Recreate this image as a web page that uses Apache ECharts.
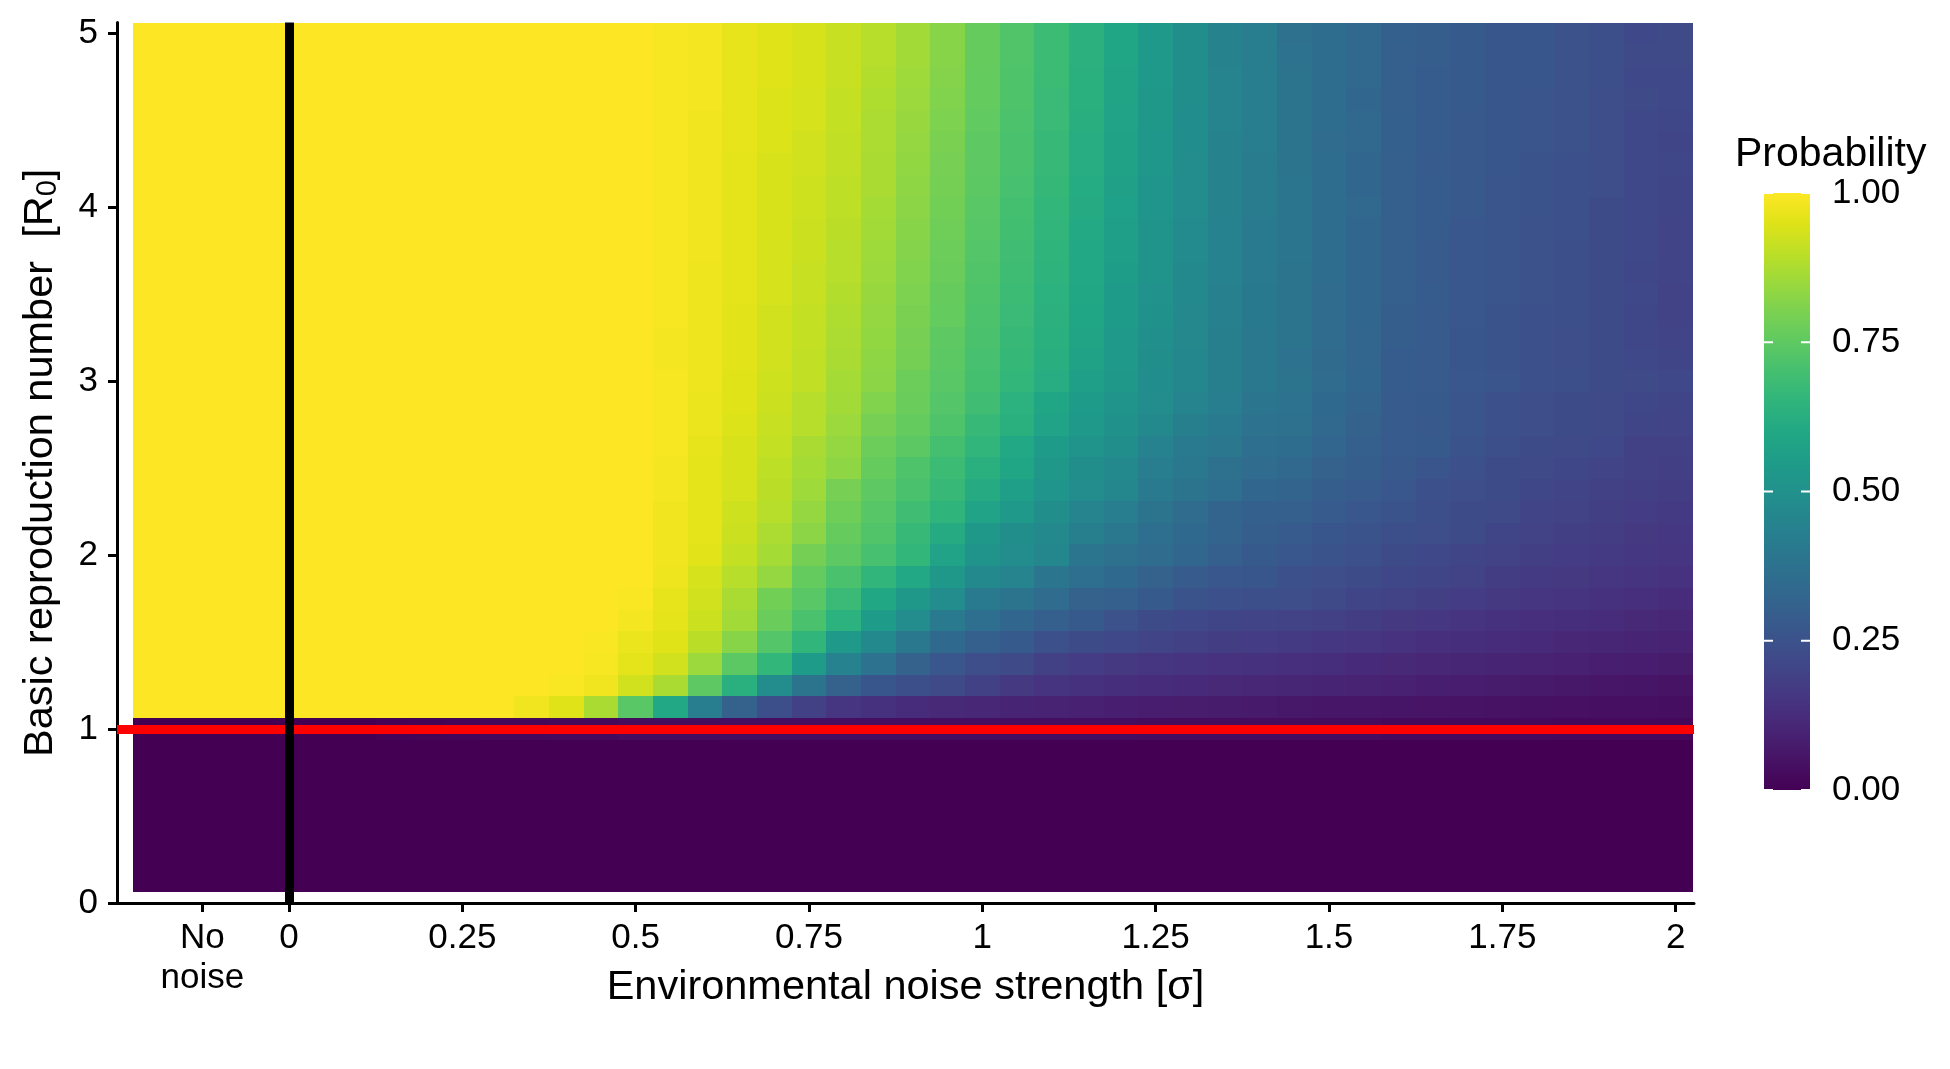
<!DOCTYPE html>
<html>
<head>
<meta charset="utf-8">
<script src="https://cdn.jsdelivr.net/npm/echarts@6/dist/echarts.min.js"></script>
<style>
  html, body { margin: 0; padding: 0; background: #ffffff; }
  #chart { width: 1950px; height: 1069px; }
</style>
</head>
<body>
<div id="chart"></div>
<script>
// ---------------- DATA ----------------
// Noise strength levels (first entry is the "No noise" reference column)
const sigmaLevels = [-0.125, 0, 0.05, 0.1, 0.15, 0.2, 0.25, 0.3, 0.35, 0.4, 0.45, 0.5,
  0.55, 0.6, 0.65, 0.7, 0.75, 0.8, 0.85, 0.9, 0.95, 1, 1.05, 1.1, 1.15, 1.2, 1.25,
  1.3, 1.35, 1.4, 1.45, 1.5, 1.55, 1.6, 1.65, 1.7, 1.75, 1.8, 1.85, 1.9, 1.95, 2];

// Basic reproduction number levels (rows)
const r0Levels = [0.125, 0.25, 0.375, 0.5, 0.625, 0.75, 0.875, 1, 1.125, 1.25, 1.375, 1.5,
  1.625, 1.75, 1.875, 2, 2.125, 2.25, 2.375, 2.5, 2.625, 2.75, 2.875, 3, 3.125, 3.25,
  3.375, 3.5, 3.625, 3.75, 3.875, 4, 4.125, 4.25, 4.375, 4.5, 4.625, 4.75, 4.875, 5];

// Probability per row (R0 ascending), columns follow sigmaLevels
const probability = [
  [0,0,0,0,0,0,0, 0,0,0,0,0, 0,0,0,0,0, 0,0,0,0,0, 0,0,0,0,0, 0,0,0,0,0, 0,0,0,0,0, 0,0,0,0,0],
  [0,0,0,0,0,0,0, 0,0,0,0,0, 0,0,0,0,0, 0,0,0,0,0, 0,0,0,0,0, 0,0,0,0,0, 0,0,0,0,0, 0,0,0,0,0],
  [0,0,0,0,0,0,0, 0,0,0,0,0, 0,0,0,0,0, 0,0,0,0,0, 0,0,0,0,0, 0,0,0,0,0, 0,0,0,0,0, 0,0,0,0,0],
  [0,0,0,0,0,0,0, 0,0,0,0,0, 0,0,0,0,0, 0,0,0,0,0, 0,0,0,0,0, 0,0,0,0,0, 0,0,0,0,0, 0,0,0,0,0],
  [0,0,0,0,0,0,0, 0,0,0,0,0, 0,0,0,0,0, 0,0,0,0,0, 0,0,0,0,0, 0,0,0,0,0, 0,0,0,0,0, 0,0,0,0,0],
  [0,0,0,0,0,0,0, 0,0,0,0,0, 0,0,0,0,0, 0,0,0,0,0, 0,0,0,0,0, 0,0,0,0,0, 0,0,0,0,0, 0,0,0,0,0],
  [0,0,0,0,0,0,0, 0,0,0,0,0, 0,0,0,0,0, 0,0,0,0,0, 0,0,0,0,0, 0,0,0,0,0, 0,0,0,0,0, 0,0,0,0,0],
  [0,0,0,0,0.005,0.01,0.015, 0.02,0.02,0.025,0.025,0.03, 0.03,0.03,0.035,0.035,0.035, 0.035,0.035,0.035,0.035,0.035, 0.035,0.035,0.035,0.035,0.03, 0.03,0.03,0.03,0.03,0.03, 0.03,0.025,0.025,0.025,0.025, 0.025,0.02,0.02,0.02,0.02],
  [1,1,1,1,1,1,1, 1,0.98,0.95,0.87,0.74, 0.60,0.42,0.31,0.24,0.19, 0.155,0.14,0.125,0.115,0.11, 0.10,0.095,0.09,0.085,0.08, 0.078,0.075,0.07,0.065,0.06, 0.058,0.055,0.052,0.05,0.047, 0.045,0.042,0.04,0.038,0.035],
  [1,1,1,1,1,1,1, 1,1,0.995,0.98,0.93, 0.87,0.75,0.63,0.48,0.38, 0.31,0.265,0.24,0.22,0.19, 0.165,0.15,0.14,0.13,0.125, 0.12,0.115,0.11,0.105,0.10, 0.095,0.09,0.085,0.08,0.075, 0.07,0.065,0.06,0.055,0.05],
  [1,1,1,1,1,1,1, 1,1,1,0.99,0.96, 0.93,0.85,0.745,0.66,0.55, 0.44,0.375,0.31,0.27,0.235, 0.22,0.19,0.175,0.165,0.155, 0.15,0.145,0.14,0.135,0.13, 0.12,0.115,0.11,0.105,0.10, 0.095,0.09,0.085,0.08,0.075],
  [1,1,1,1,1,1,1, 1,1,1,0.995,0.97, 0.95,0.895,0.82,0.73,0.655, 0.54,0.47,0.40,0.34,0.30, 0.28,0.245,0.23,0.215,0.20, 0.19,0.18,0.175,0.17,0.16, 0.155,0.145,0.135,0.13,0.125, 0.12,0.11,0.105,0.10,0.095],
  [1,1,1,1,1,1,1, 1,1,1,1,0.985, 0.96,0.92,0.86,0.77,0.71, 0.64,0.55,0.48,0.41,0.36, 0.33,0.30,0.28,0.25,0.23, 0.215,0.205,0.20,0.195,0.19, 0.18,0.165,0.16,0.15,0.14, 0.135,0.13,0.125,0.115,0.11],
  [1,1,1,1,1,1,1, 1,1,1,1,0.995, 0.965,0.93,0.87,0.785,0.74, 0.675,0.595,0.53,0.48,0.41, 0.38,0.35,0.31,0.30,0.28, 0.255,0.245,0.24,0.235,0.22, 0.205,0.195,0.185,0.175,0.165, 0.155,0.15,0.14,0.135,0.125],
  [1,1,1,1,1,1,1, 1,1,1,1,1, 0.975,0.935,0.89,0.84,0.76, 0.71,0.655,0.60,0.53,0.47, 0.45,0.39,0.36,0.34,0.31, 0.285,0.27,0.265,0.245,0.235, 0.225,0.21,0.205,0.195,0.18, 0.17,0.165,0.155,0.15,0.145],
  [1,1,1,1,1,1,1, 1,1,1,1,1, 0.98,0.955,0.91,0.865,0.79, 0.75,0.705,0.66,0.58,0.51, 0.48,0.46,0.39,0.37,0.35, 0.33,0.30,0.28,0.27,0.255, 0.245,0.225,0.215,0.205,0.195, 0.185,0.175,0.17,0.16,0.155],
  [1,1,1,1,1,1,1, 1,1,1,1,1, 0.98,0.96,0.92,0.875,0.825, 0.765,0.725,0.67,0.61,0.53, 0.49,0.47,0.43,0.40,0.36, 0.34,0.32,0.295,0.285,0.265, 0.255,0.24,0.235,0.225,0.205, 0.195,0.185,0.18,0.165,0.16],
  [1,1,1,1,1,1,1, 1,1,1,1,1, 0.98,0.96,0.925,0.89,0.84, 0.78,0.735,0.69,0.65,0.58, 0.54,0.49,0.45,0.42,0.38, 0.35,0.32,0.305,0.30,0.285, 0.27,0.255,0.24,0.23,0.22, 0.20,0.195,0.185,0.175,0.17],
  [1,1,1,1,1,1,1, 1,1,1,1,1, 0.985,0.96,0.935,0.895,0.855, 0.795,0.75,0.71,0.67,0.61, 0.56,0.52,0.48,0.46,0.41, 0.38,0.36,0.33,0.32,0.295, 0.285,0.27,0.245,0.235,0.225, 0.21,0.20,0.19,0.185,0.18],
  [1,1,1,1,1,1,1, 1,1,1,1,1, 0.985,0.96,0.94,0.90,0.865, 0.83,0.765,0.72,0.68,0.63, 0.59,0.53,0.49,0.47,0.42, 0.40,0.37,0.35,0.335,0.31, 0.295,0.275,0.26,0.245,0.225, 0.22,0.21,0.20,0.19,0.185],
  [1,1,1,1,1,1,1, 1,1,1,1,1, 0.99,0.965,0.94,0.91,0.87, 0.84,0.775,0.745,0.70,0.655, 0.60,0.55,0.51,0.49,0.44, 0.41,0.395,0.36,0.355,0.325, 0.30,0.285,0.28,0.255,0.24, 0.23,0.22,0.215,0.19,0.19],
  [1,1,1,1,1,1,1, 1,1,1,1,1, 0.99,0.97,0.945,0.915,0.89, 0.85,0.795,0.76,0.72,0.67, 0.63,0.58,0.54,0.50,0.47, 0.43,0.41,0.375,0.37,0.335, 0.31,0.285,0.275,0.26,0.245, 0.235,0.225,0.22,0.205,0.20],
  [1,1,1,1,1,1,1, 1,1,1,1,1, 0.99,0.97,0.95,0.92,0.89, 0.86,0.81,0.77,0.73,0.69, 0.64,0.59,0.55,0.51,0.48, 0.45,0.42,0.39,0.375,0.34, 0.32,0.285,0.28,0.26,0.245, 0.235,0.23,0.22,0.21,0.205],
  [1,1,1,1,1,1,1, 1,1,1,1,1, 0.99,0.975,0.95,0.925,0.905, 0.865,0.825,0.775,0.74,0.70, 0.66,0.62,0.56,0.53,0.485, 0.46,0.43,0.40,0.38,0.35, 0.33,0.29,0.285,0.27,0.26, 0.245,0.24,0.23,0.22,0.215],
  [1,1,1,1,1,1,1, 1,1,1,1,1, 0.985,0.975,0.955,0.93,0.905, 0.87,0.83,0.79,0.745,0.705, 0.665,0.625,0.575,0.535,0.49, 0.46,0.43,0.40,0.375,0.345, 0.325,0.29,0.285,0.265,0.255, 0.245,0.235,0.225,0.215,0.205],
  [1,1,1,1,1,1,1, 1,1,1,1,1, 0.985,0.975,0.955,0.93,0.91, 0.875,0.835,0.795,0.75,0.71, 0.67,0.63,0.585,0.54,0.495, 0.465,0.43,0.40,0.38,0.35, 0.325,0.295,0.285,0.265,0.255, 0.245,0.235,0.225,0.21,0.20],
  [1,1,1,1,1,1,1, 1,1,1,1,1, 0.99,0.975,0.955,0.93,0.91, 0.88,0.84,0.80,0.76,0.715, 0.675,0.635,0.59,0.545,0.50, 0.465,0.435,0.405,0.38,0.35, 0.33,0.295,0.285,0.27,0.255, 0.245,0.24,0.225,0.21,0.195],
  [1,1,1,1,1,1,1, 1,1,1,1,1, 0.99,0.975,0.96,0.935,0.915, 0.885,0.845,0.805,0.765,0.72, 0.68,0.64,0.595,0.55,0.505, 0.47,0.435,0.405,0.385,0.35, 0.33,0.30,0.29,0.27,0.26, 0.25,0.24,0.23,0.215,0.195],
  [1,1,1,1,1,1,1, 1,1,1,1,1, 0.99,0.975,0.96,0.935,0.915, 0.89,0.85,0.81,0.77,0.725, 0.685,0.645,0.60,0.555,0.51, 0.47,0.44,0.41,0.385,0.355, 0.33,0.30,0.285,0.27,0.26, 0.25,0.24,0.23,0.21,0.20],
  [1,1,1,1,1,1,1, 1,1,1,1,1, 0.99,0.98,0.96,0.935,0.92, 0.89,0.855,0.815,0.775,0.73, 0.69,0.65,0.60,0.56,0.515, 0.475,0.44,0.41,0.39,0.355, 0.33,0.30,0.285,0.27,0.26, 0.25,0.24,0.23,0.215,0.20],
  [1,1,1,1,1,1,1, 1,1,1,1,1, 0.99,0.98,0.96,0.94,0.92, 0.895,0.86,0.82,0.78,0.735, 0.695,0.655,0.605,0.56,0.515, 0.475,0.44,0.41,0.39,0.355, 0.33,0.30,0.29,0.27,0.26, 0.25,0.245,0.23,0.215,0.20],
  [1,1,1,1,1,1,1, 1,1,1,1,1, 0.99,0.98,0.96,0.94,0.925, 0.90,0.865,0.825,0.785,0.74, 0.70,0.66,0.61,0.565,0.52, 0.48,0.445,0.415,0.39,0.355, 0.335,0.30,0.29,0.275,0.26, 0.255,0.245,0.23,0.215,0.205],
  [1,1,1,1,1,1,1, 1,1,1,1,1, 0.99,0.98,0.96,0.94,0.925, 0.90,0.87,0.83,0.79,0.745, 0.705,0.665,0.615,0.57,0.52, 0.48,0.445,0.415,0.39,0.355, 0.33,0.30,0.29,0.275,0.26, 0.255,0.245,0.235,0.215,0.205],
  [1,1,1,1,1,1,1, 1,1,1,1,1, 0.99,0.98,0.96,0.94,0.93, 0.905,0.87,0.835,0.795,0.75, 0.71,0.67,0.62,0.575,0.525, 0.48,0.445,0.415,0.385,0.355, 0.33,0.30,0.285,0.275,0.265, 0.255,0.245,0.235,0.215,0.21],
  [1,1,1,1,1,1,1, 1,1,1,1,1, 0.99,0.98,0.965,0.945,0.93, 0.905,0.875,0.84,0.80,0.75, 0.71,0.67,0.62,0.575,0.525, 0.485,0.445,0.42,0.385,0.35, 0.335,0.305,0.29,0.275,0.265, 0.26,0.25,0.235,0.215,0.205],
  [1,1,1,1,1,1,1, 1,1,1,1,1, 0.99,0.98,0.965,0.945,0.935, 0.91,0.875,0.845,0.805,0.755, 0.715,0.675,0.625,0.58,0.53, 0.485,0.45,0.42,0.38,0.355, 0.335,0.305,0.29,0.275,0.265, 0.26,0.25,0.235,0.215,0.21],
  [1,1,1,1,1,1,1, 1,1,1,1,1, 0.99,0.985,0.965,0.945,0.935, 0.91,0.88,0.85,0.81,0.76, 0.72,0.675,0.63,0.585,0.53, 0.49,0.45,0.42,0.38,0.355, 0.33,0.30,0.29,0.28,0.265, 0.26,0.25,0.235,0.22,0.215],
  [1,1,1,1,1,1,1, 1,1,1,1,1, 0.99,0.985,0.965,0.95,0.94, 0.915,0.885,0.855,0.815,0.76, 0.72,0.68,0.63,0.585,0.535, 0.49,0.45,0.425,0.38,0.355, 0.335,0.30,0.29,0.28,0.265, 0.265,0.25,0.24,0.215,0.215],
  [1,1,1,1,1,1,1, 1,1,1,1,1, 0.99,0.985,0.965,0.95,0.94, 0.915,0.89,0.86,0.82,0.765, 0.725,0.68,0.635,0.59,0.535, 0.49,0.445,0.425,0.375,0.355, 0.335,0.30,0.295,0.28,0.265, 0.265,0.25,0.24,0.22,0.22],
  [1,1,1,1,1,1,1, 1,1,1,1,1, 0.99,0.985,0.965,0.95,0.94, 0.915,0.89,0.86,0.82,0.765, 0.725,0.68,0.635,0.59,0.535, 0.49,0.445,0.425,0.37,0.355, 0.335,0.305,0.295,0.28,0.265, 0.265,0.25,0.24,0.215,0.22]
];

// Axis ticks and labels
const xTickValues = [-0.125, 0, 0.25, 0.5, 0.75, 1, 1.25, 1.5, 1.75, 2];
const xTickLabels = ['No\nnoise', '0', '0.25', '0.5', '0.75', '1', '1.25', '1.5', '1.75', '2'];
const yTickValues = [0, 1, 2, 3, 4, 5];
const yTickLabels = ['0', '1', '2', '3', '4', '5'];
const legendTickValues = [0, 0.25, 0.5, 0.75, 1];
const legendTickLabels = ['0.00', '0.25', '0.50', '0.75', '1.00'];

// Reference lines
const thresholdR0 = 1;
const noiseFreeSigma = 0;

// Viridis palette
const viridis = ['#440154','#471365','#482475','#463480','#414487','#3B528B','#355F8D',
  '#2F6C8E','#2A788E','#25848E','#21918C','#1E9C89','#22A884','#2FB47C','#44BF70',
  '#5EC962','#7AD151','#9BD93C','#BDDF26','#DFE318','#FDE725'];

// ---------------- CHART ----------------
const FONT = "'Liberation Sans', Arial, Helvetica, sans-serif";
const CELL_HALF_W = 0.025;
const NO_NOISE_HALF_W = 0.1;
const CELL_HALF_H = 0.0625;
const LEGEND_TICK_LEN = 9;

const cells = [];
r0Levels.forEach((r, i) => {
  sigmaLevels.forEach((s, j) => {
    cells.push([s, r, probability[i][j], j]);
  });
});

function renderCell(params, api) {
  const s = api.value(0), r = api.value(1), j = api.value(3);
  const hw = j === 0 ? NO_NOISE_HALF_W : CELL_HALF_W;
  const p0 = api.coord([s - hw, r + CELL_HALF_H]);
  const p1 = api.coord([s + hw, r - CELL_HALF_H]);
  const x0 = Math.round(p0[0]), y0 = Math.round(p0[1]);
  const x1 = Math.round(p1[0]), y1 = Math.round(p1[1]);
  return {
    type: 'rect',
    shape: { x: x0, y: y0, width: x1 - x0, height: y1 - y0 },
    style: { fill: api.visual('color') }
  };
}

function renderColorbar(params, api) {
  const lo = api.value(0), hi = api.value(1);
  const p0 = api.coord([0, hi]);
  const p1 = api.coord([1, lo]);
  const children = [{
    type: 'rect',
    shape: { x: p0[0], y: p0[1], width: p1[0] - p0[0], height: p1[1] - p0[1] },
    style: {
      fill: {
        type: 'linear', x: 0, y: 1, x2: 0, y2: 0,
        colorStops: viridis.map((c, i) => ({ offset: i / (viridis.length - 1), color: c }))
      }
    }
  }];
  legendTickValues.forEach(v => {
    const y = api.coord([0, v])[1];
    children.push({ type: 'line', shape: { x1: p0[0], y1: y, x2: p0[0] + LEGEND_TICK_LEN, y2: y },
      style: { stroke: '#ffffff', lineWidth: 2 } });
    children.push({ type: 'line', shape: { x1: p1[0] - LEGEND_TICK_LEN, y1: y, x2: p1[0], y2: y },
      style: { stroke: '#ffffff', lineWidth: 2 } });
  });
  return { type: 'group', children: children };
}

function pickLabel(values, labels) {
  return function (v) {
    for (let k = 0; k < values.length; k++) {
      if (Math.abs(values[k] - v) < 1e-9) return labels[k];
    }
    return '';
  };
}

const chart = echarts.init(document.getElementById('chart'), null, { renderer: 'canvas' });

const option = {
  animation: false,
  backgroundColor: '#ffffff',
  textStyle: { fontFamily: FONT },
  title: {
    text: 'Probability',
    left: 1735, top: 132, padding: 0,
    textStyle: { fontFamily: FONT, fontSize: 41, fontWeight: 'normal', color: '#000', lineHeight: 46 }
  },
  grid: [
    { left: 117, top: 22.6, width: 1577, height: 880.4, containLabel: false },
    { left: 1764, top: 193, width: 46, height: 597, containLabel: false }
  ],
  xAxis: [
    {
      type: 'value', gridIndex: 0, min: -0.248, max: 2.0265,
      splitLine: { show: false },
      axisLine: { show: true, onZero: false, lineStyle: { color: '#000', width: 3 } },
      axisTick: { show: true, customValues: xTickValues, length: 9, lineStyle: { color: '#000', width: 3 } },
      axisLabel: {
        customValues: xTickValues, formatter: pickLabel(xTickValues, xTickLabels),
        margin: 15, fontSize: 35, lineHeight: 40, color: '#000', fontFamily: FONT
      },
      name: 'Environmental noise strength [σ]',
      nameLocation: 'middle', nameGap: 61, nameMoveOverlap: false,
      nameTextStyle: { fontSize: 41.5, color: '#000', fontFamily: FONT, lineHeight: 48 }
    },
    { type: 'value', gridIndex: 1, min: 0, max: 1, show: false }
  ],
  yAxis: [
    {
      type: 'value', gridIndex: 0, min: 0, max: 5.0625,
      splitLine: { show: false },
      axisLine: { show: true, onZero: false, lineStyle: { color: '#000', width: 3 } },
      axisTick: { show: true, customValues: yTickValues, length: 9, lineStyle: { color: '#000', width: 3 } },
      axisLabel: {
        customValues: yTickValues, formatter: pickLabel(yTickValues, yTickLabels),
        margin: 19, fontSize: 35, color: '#000', fontFamily: FONT
      },
      name: 'Basic reproduction number  [R{sub|0}]',
      nameLocation: 'middle', nameGap: 52.5, nameRotate: 90, nameMoveOverlap: false,
      nameTextStyle: {
        fontSize: 41.5, color: '#000', fontFamily: FONT, lineHeight: 48,
        rich: { sub: { fontSize: 29, fontFamily: FONT, color: '#000', padding: [14, 0, 0, 0] } }
      }
    },
    {
      type: 'value', gridIndex: 1, min: 0, max: 1, position: 'right',
      splitLine: { show: false },
      axisLine: { show: false },
      axisTick: { show: false },
      axisLabel: {
        customValues: legendTickValues, formatter: pickLabel(legendTickValues, legendTickLabels),
        margin: 22, fontSize: 35, color: '#000', fontFamily: FONT
      }
    }
  ],
  visualMap: {
    type: 'continuous', show: false, min: 0, max: 1,
    dimension: 2, seriesIndex: 0,
    inRange: { color: viridis }
  },
  series: [
    {
      type: 'custom', xAxisIndex: 0, yAxisIndex: 0,
      renderItem: renderCell,
      data: cells,
      encode: { x: 0, y: 1 },
      silent: true,
      markLine: {
        silent: true, symbol: ['none', 'none'],
        label: { show: false },
        data: [
          { yAxis: thresholdR0, lineStyle: { color: '#FF0000', width: 9, type: 'solid' } },
          { xAxis: noiseFreeSigma, lineStyle: { color: '#000000', width: 9, type: 'solid' } }
        ]
      }
    },
    {
      type: 'custom', xAxisIndex: 1, yAxisIndex: 1,
      renderItem: renderColorbar,
      data: [[0, 1]],
      encode: { x: 0, y: 1 },
      silent: true
    }
  ]
};

chart.setOption(option);
</script>
</body>
</html>
